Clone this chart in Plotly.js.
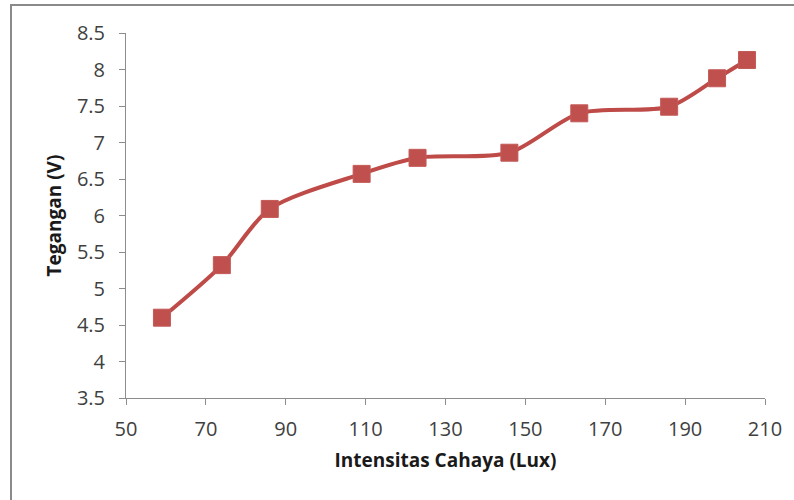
<!DOCTYPE html>
<html>
<head>
<meta charset="utf-8">
<script src="https://cdn.plot.ly/plotly-3.0.1.min.js"></script>
<style>
  html, body { margin: 0; padding: 0; background: #fff; }
  #wrap { position: relative; width: 794px; height: 500px; overflow: hidden; }
  #chart { width: 794px; height: 500px; }
  #frame { position: absolute; left: 10px; top: 4px; width: 800px; height: 520px;
           border-left: 2px solid #8a8a8a; border-top: 2px solid #8a8a8a; pointer-events: none; }
</style>
</head>
<body>
<div id="wrap">
  <div id="chart"></div>
  <div id="frame"></div>
</div>
<script>
const intensitas = [59, 74, 86, 109, 123, 146, 163.5, 186, 198, 205.5];
const tegangan   = [4.6, 5.32, 6.09, 6.57, 6.79, 6.86, 7.40, 7.49, 7.88, 8.13];
const xTicks = [50, 70, 90, 110, 130, 150, 170, 190, 210];
const yTicks = [3.5, 4, 4.5, 5, 5.5, 6, 6.5, 7, 7.5, 8, 8.5];

const trace = {
  x: intensitas, y: tegangan, type: 'scatter', mode: 'lines+markers',
  line: { color: '#BE4B48', width: 4, shape: 'spline', smoothing: 0.8 },
  marker: { symbol: 'square', size: 17, color: '#C0504D', line: { color: '#C35A57', width: 1 } },
  showlegend: false, hoverinfo: 'skip'
};

const tickFont = { family: 'Open Sans, sans-serif', size: 20, color: '#404040' };
const titleFont = { family: 'Open Sans, sans-serif', size: 19, color: '#1a1a1a', weight: 'bold' };
const layout = {
  width: 794, height: 500,
  margin: { l: 126, r: 29, t: 33, b: 102 },
  paper_bgcolor: '#fff', plot_bgcolor: '#fff',
  xaxis: {
    range: [50, 210], tickvals: xTicks, ticktext: xTicks.map(String),
    showgrid: false, zeroline: false, showline: true, linecolor: '#8c8c8c', linewidth: 1,
    ticks: 'outside', ticklen: 6, tickcolor: '#8c8c8c', tickfont: tickFont, ticklabelstandoff: 7,
    title: { text: 'Intensitas Cahaya (Lux)', font: titleFont, standoff: 12 }
  },
  yaxis: {
    range: [3.5, 8.5], tickvals: yTicks, ticktext: yTicks.map(String),
    showgrid: false, zeroline: false, showline: true, linecolor: '#8c8c8c', linewidth: 1,
    ticks: 'outside', ticklen: 6, tickcolor: '#8c8c8c', tickfont: tickFont, ticklabelstandoff: 10,
    title: { text: 'Tegangan (V)', font: titleFont, standoff: 10 }
  }
};

Plotly.newPlot('chart', [trace], layout, { staticPlot: true, displayModeBar: false });
</script>
</body>
</html>
